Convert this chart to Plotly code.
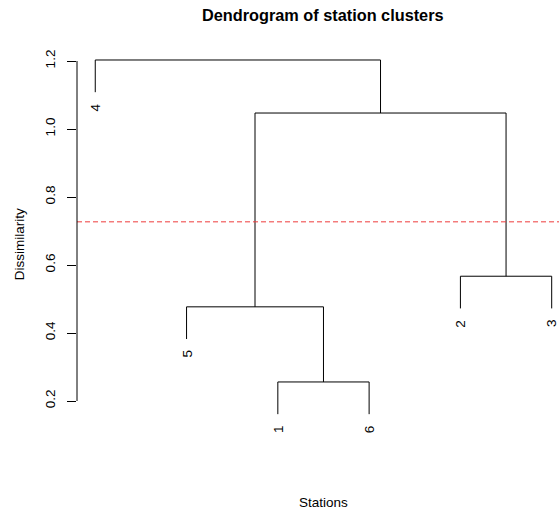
import plotly.graph_objects as go

# ---- data ----
station_labels = ["1", "2", "3", "4", "5", "6"]
# hclust-style merge matrix: negative = leaf (station index), positive = earlier merge step
merge_pairs = [[-1, -6], [-5, 1], [-2, -3], [2, 3], [-4, 4]]
merge_heights = [0.256, 0.477, 0.567, 1.047, 1.203]
leaf_order = [4, 5, 1, 6, 2, 3]
cut_height = 0.727
y_ticks = [0.2, 0.4, 0.6, 0.8, 1.0, 1.2]
title_text = "Dendrogram of station clusters"
x_title = "Stations"
y_title = "Dissimilarity"

# ---- layout of dendrogram (R plot.hclust style) ----
hang = 0.1 * (max(merge_heights) - min(merge_heights))
leaf_x = {leaf: i + 1 for i, leaf in enumerate(leaf_order)}
node_x = {}
leaf_end = {}


def child_pos(c, h):
    if c < 0:
        y = h - hang
        leaf_end[-c] = y
        return leaf_x[-c], y
    return node_x[c], merge_heights[c - 1]


xs, ys = [], []
for step, (a, b) in enumerate(merge_pairs, start=1):
    h = merge_heights[step - 1]
    xa, ya = child_pos(a, h)
    xb, yb = child_pos(b, h)
    xs += [xa, xa, xb, xb, None]
    ys += [ya, h, h, yb, None]
    node_x[step] = (xa + xb) / 2

font_family = "Liberation Sans, Arial, sans-serif"
fs = 13.5

fig = go.Figure()
fig.add_trace(go.Scatter(x=xs, y=ys, mode="lines",
                         line=dict(color="black", width=1),
                         hoverinfo="skip", showlegend=False))

# cut line
fig.add_shape(type="line", xref="paper", x0=0, x1=1, yref="y",
              y0=cut_height, y1=cut_height,
              line=dict(color="#ee3b3b", width=1, dash="5px,3px"))
# y-axis line only between first and last tick (R style)
fig.add_shape(type="line", xref="paper", x0=0, x1=0, yref="y",
              y0=min(y_ticks), y1=max(y_ticks),
              line=dict(color="black", width=1))

annotations = []
for leaf in leaf_order:
    annotations.append(dict(x=leaf_x[leaf], y=leaf_end[leaf], xref="x", yref="y",
                            text=station_labels[leaf - 1], showarrow=False,
                            textangle=-90, xanchor="center", yanchor="top",
                            yshift=-9, font=dict(size=fs, color="black", family=font_family)))
annotations.append(dict(x=0.511, y=1, xref="paper", yref="paper", yshift=32,
                        text="<b>" + title_text + "</b>", showarrow=False,
                        xanchor="center", yanchor="middle",
                        font=dict(size=16.3, color="black", family=font_family)))
annotations.append(dict(x=0.511, y=0, xref="paper", yref="paper", yshift=-74,
                        text=x_title, showarrow=False, xanchor="center", yanchor="middle",
                        font=dict(size=fs, color="black", family=font_family)))
annotations.append(dict(x=-0.1205, y=0.482, xref="paper", yref="paper",
                        text=y_title, showarrow=False, textangle=-90,
                        xanchor="center", yanchor="middle",
                        font=dict(size=fs, color="black", family=font_family)))

fig.update_layout(
    width=559, height=512,
    margin=dict(l=77, r=0, t=47, b=84),
    paper_bgcolor="white", plot_bgcolor="white",
    annotations=annotations,
    xaxis=dict(range=[0.8, 6.08], showgrid=False, zeroline=False, showline=False,
               showticklabels=False, ticks=""),
    yaxis=dict(range=[0.1206, 1.2412], showgrid=False, zeroline=False, showline=False,
               tickvals=y_ticks, ticktext=["%.1f" % v for v in y_ticks],
               ticks="outside", ticklen=9, tickcolor="black", tickwidth=1,
               ticklabelstandoff=7,
               tickangle=-90, tickfont=dict(size=fs, color="black", family=font_family)),
)

fig.write_html("out.html")
